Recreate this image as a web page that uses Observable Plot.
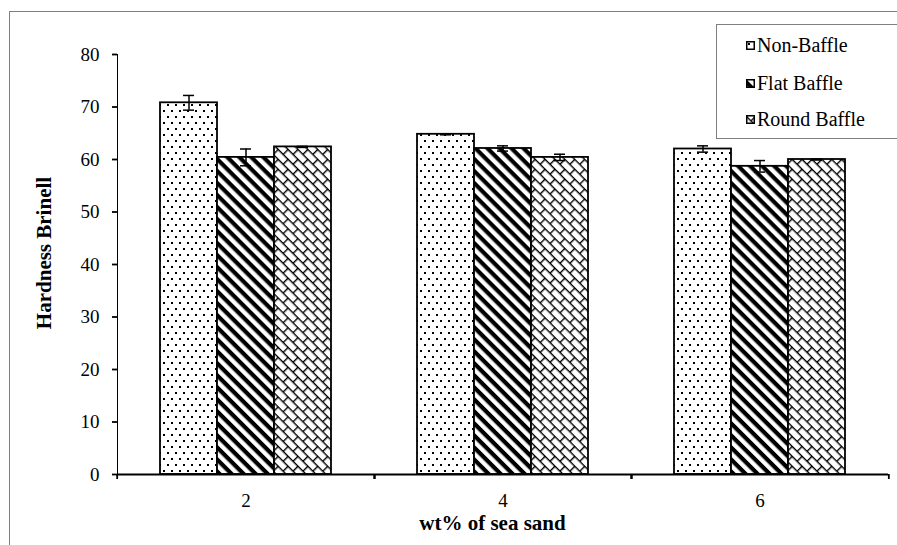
<!DOCTYPE html>
<html>
<head>
<meta charset="utf-8">
<script src="https://cdn.jsdelivr.net/npm/d3@7"></script>
<script src="https://cdn.jsdelivr.net/npm/@observablehq/plot@0.6"></script>
<style>
  html, body { margin: 0; padding: 0; background: #fff; }
  #wrap { position: relative; width: 897px; height: 545px; overflow: hidden; font-family: "Liberation Serif", "Times New Roman", Times, "DejaVu Serif", serif; }
  #frame { position: absolute; left: 9px; top: 11px; width: 1000px; height: 1000px; border-left: 1px solid #7f7f7f; border-top: 1px solid #7f7f7f; }
  #chart { position: absolute; left: 0; top: 0; }
  #chart svg [aria-label="y-axis tick"] path, #chart svg [aria-label="y-axis tick"] line { stroke-width: 1.8; }
  .title { position: absolute; font-weight: bold; font-size: 21px; color: #000; white-space: nowrap; }
  #xtitle { left: 0; width: 985px; top: 511px; text-align: center; }
  #ytitle { left: 44px; top: 253px; transform: translate(-50%, -50%) rotate(-90deg); }
  #legend { position: absolute; left: 716px; top: 24px; width: 185px; height: 113px; border: 1px solid #7f7f7f; background: #fff; }
  .item { position: absolute; left: 29px; font-size: 20px; line-height: 20px; display: flex; align-items: center; white-space: nowrap; }
  .item svg { margin-right: 2px; }
</style>
</head>
<body>
<svg width="0" height="0" style="position:absolute">
  <defs>
    <pattern id="pDots" width="8" height="12" patternUnits="userSpaceOnUse">
      <rect width="8" height="12" fill="#fff"/>
      <rect x="2" y="2" width="2" height="2" fill="#000"/>
      <rect x="6" y="8" width="2" height="2" fill="#000"/>
    </pattern>
    <pattern id="pStripes" width="8.5" height="8.5" patternUnits="userSpaceOnUse" patternTransform="rotate(45)">
      <rect width="8.5" height="8.5" fill="#fff"/>
      <rect y="0" width="8.5" height="4.2" fill="#000"/>
    </pattern>
    <pattern id="pBrick" width="14" height="14" patternUnits="userSpaceOnUse" patternTransform="rotate(45)">
      <rect width="14" height="14" fill="#fff"/>
      <line x1="0" y1="0.7" x2="14" y2="0.7" stroke="#000" stroke-width="1.4"/>
      <line x1="0" y1="7.7" x2="14" y2="7.7" stroke="#000" stroke-width="1.4"/>
      <line x1="0.7" y1="0" x2="0.7" y2="7" stroke="#000" stroke-width="1.4"/>
      <line x1="7.7" y1="7" x2="7.7" y2="14" stroke="#000" stroke-width="1.4"/>
    </pattern>
  </defs>
</svg>
<div id="wrap">
  <div id="frame"></div>
  <div id="chart"></div>
  <div class="title" id="xtitle">wt% of sea sand</div>
  <div class="title" id="ytitle">Hardness Brinell</div>
  <div id="legend"></div>
</div>
<script>
const categories = ["2", "4", "6"];
const series = ["Non-Baffle", "Flat Baffle", "Round Baffle"];
const nonBaffle = [70.8, 64.8, 62.0];
const flatBaffle = [60.4, 62.1, 58.7];
const roundBaffle = [62.4, 60.4, 60.0];
const nonBaffleErr = [1.4, 0.1, 0.6];
const flatBaffleErr = [1.6, 0.5, 1.1];
const roundBaffleErr = [0.1, 0.6, 0.1];
const yTicks = [0, 10, 20, 30, 40, 50, 60, 70, 80];
const patterns = ["url(#pDots)", "url(#pStripes)", "url(#pBrick)"];

const values = [nonBaffle, flatBaffle, roundBaffle];
const errs = [nonBaffleErr, flatBaffleErr, roundBaffleErr];
const data = [];
categories.forEach((c, i) => {
  series.forEach((s, j) => {
    data.push({cat: c, series: s, value: values[j][i], err: errs[j][i]});
  });
});

const W = 897, H = 545, mL = 116, mR = 8;
const half = (W - mL - mR) / categories.length / 2;
const fontFam = "'Liberation Serif', 'Times New Roman', Times, 'DejaVu Serif', serif";

const chart = Plot.plot({
  width: W,
  height: H,
  marginLeft: mL,
  marginRight: mR,
  marginTop: 54,
  marginBottom: 71,
  style: {fontFamily: fontFam, fontSize: "19px", color: "#000", background: "transparent"},
  fx: {domain: categories, padding: 0, label: null, axis: "bottom", tickSize: 0, tickPadding: 19},
  x: {domain: series, paddingInner: 0, paddingOuter: 0.74, axis: null},
  y: {domain: [0, 80], label: null, ticks: yTicks, tickSize: 5, tickPadding: 13, line: true},
  color: {domain: series, range: patterns},
  marks: [
    Plot.barY(data, {fx: "cat", x: "series", y: "value", fill: "series", stroke: "#000", strokeWidth: 1.8}),
    Plot.ruleX(data, {fx: "cat", x: "series", y1: d => d.value - d.err, y2: d => d.value + d.err, stroke: "#000", strokeWidth: 1.5}),
    Plot.tickY(data, {fx: "cat", x: "series", y: d => d.value - d.err, insetLeft: 23, insetRight: 23, stroke: "#000", strokeWidth: 1.5}),
    Plot.tickY(data, {fx: "cat", x: "series", y: d => d.value + d.err, insetLeft: 23, insetRight: 23, stroke: "#000", strokeWidth: 1.5}),
    Plot.ruleY([0], {stroke: "#000", strokeWidth: 2}),
    Plot.axisFx({anchor: "bottom", tickSize: 5, tickFormat: () => "", label: null, dx: -half, strokeWidth: 1.8}),
    Plot.axisFx({anchor: "bottom", tickSize: 5, tickFormat: () => "", label: null, dx: half, strokeWidth: 1.8})
  ]
});
document.getElementById("chart").appendChild(chart);

// legend
const legend = document.getElementById("legend");
const rowTops = [10, 48, 84];
series.forEach((s, i) => {
  const item = document.createElement("div");
  item.className = "item";
  item.style.top = rowTops[i] + "px";
  item.innerHTML = `<svg width="9" height="9"><rect x="0.75" y="0.75" width="7.5" height="7.5" fill="${patterns[i]}" stroke="#000" stroke-width="1.5"/></svg><span>${s}</span>`;
  legend.appendChild(item);
});
</script>
</body>
</html>
